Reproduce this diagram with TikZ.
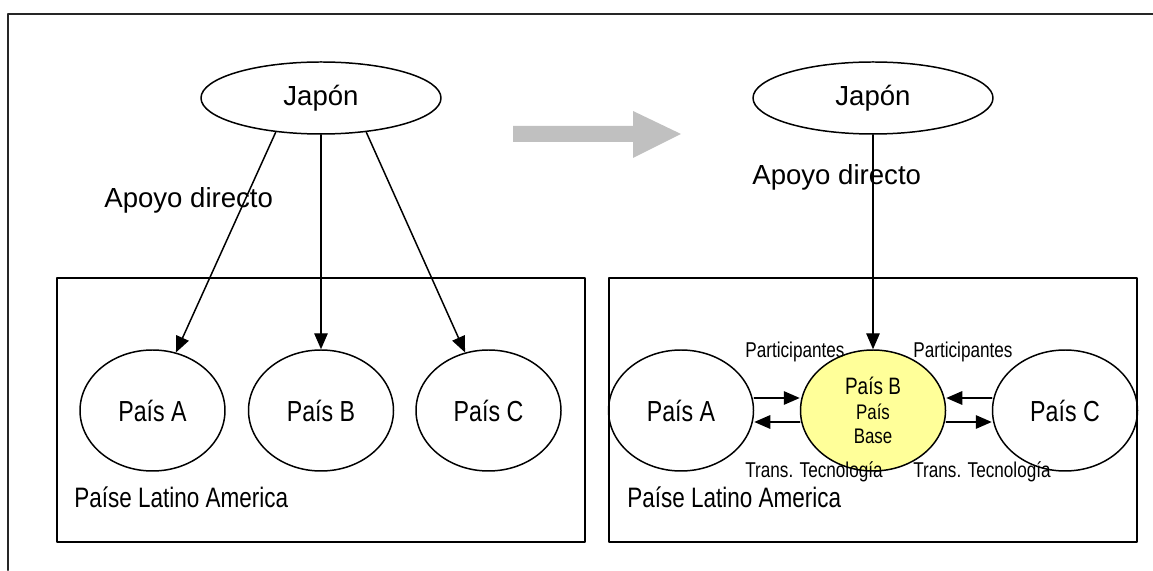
\documentclass[tikz,border=0pt]{standalone}
\usepackage{fontspec}
\setmainfont{Liberation Sans}
\newfontfamily\narrowsans[FakeStretch=0.8]{Liberation Sans}
\usepackage{tikz}
\usetikzlibrary{arrows.meta,shapes.geometric}
\definecolor{amarillo}{RGB}{255,255,153}
\definecolor{gris}{RGB}{192,192,192}
\tikzset{
	japon/.style={draw,ellipse,line width=0.85pt,minimum width=4.8cm,minimum height=1.44cm,inner sep=0pt,font=\fontsize{15.7}{18}\selectfont},
	pais/.style={draw,ellipse,line width=0.85pt,minimum width=2.9cm,minimum height=2.42cm,inner sep=0pt,font=\narrowsans\fontsize{16.5}{18}\selectfont},
	apoyo/.style={anchor=west,inner sep=0pt,font=\fontsize{15.7}{18}\selectfont},
	region/.style={anchor=west,inner sep=0pt,font=\narrowsans\fontsize{16}{18}\selectfont},
	etiqueta/.style={anchor=west,inner sep=0pt,font=\narrowsans\fontsize{12.2}{14}\selectfont}
}

\begin{document}
\begin{tikzpicture}[line cap=round,line join=round,>={Triangle[length=0.32cm,width=0.27cm]},x=1cm,y=1cm]
		\useasboundingbox (0,0) rectangle (23.06,11.4);
		\clip (0,0) rectangle (23.06,11.4);
		%%%%%%%%%%%%%%%%%%%%% M A R C O %%%%%%%%%%%%%%%%%%%%%
		\draw [line width=1.2pt,color=black!85] (23.06,11.12) -- (0.16,11.12) -- (0.16,0);
		
		%%%% ANTES
		\draw [line width=0.85pt] (1.14,0.56) rectangle (11.7,5.84);
		\node[apoyo] (apoyoL) at (2.08,7.4) {Apoyo directo};
		\node[japon] (japonL) at (6.42,9.44) {Japón};
		\node[pais] (paisA) at (3.05,3.19) {País A};
		\node[pais] (paisB) at (6.42,3.19) {País B};
		\node[pais] (paisC) at (9.77,3.19) {País C};
		\node[region] (regionL) at (1.48,1.46) {Paíse Latino America};
		\draw [->,line width=0.85pt] (japonL.217) -- (paisA.68);
		\draw [->,line width=0.85pt] (japonL.south) -- (paisB.north);
		\draw [->,line width=0.85pt] (japonL.323) -- (paisC.112);
		
		%FLECHA
		\fill [gris] (10.26,8.88) -- (12.66,8.88) -- (12.66,9.18) -- (13.62,8.72) -- (12.66,8.24) -- (12.66,8.56) -- (10.26,8.56) -- cycle;
		
		%%%% DESPUES
		\draw [line width=0.85pt] (12.18,0.56) rectangle (22.74,5.84);
		\node[apoyo] (apoyoR) at (15.04,7.86) {Apoyo directo};
		\node[japon] (japonR) at (17.46,9.44) {Japón};
		\node[pais] (baseA) at (13.62,3.19) {País A};
		\node[pais,fill=amarillo,align=center,font=\narrowsans\fontsize{12}{13.9}\selectfont] (baseB) at (17.46,3.19) {{\fontsize{13.5}{13.9}\selectfont País B}\\País\\Base};
		\node[pais] (baseC) at (21.3,3.19) {País C};
		\node[region] (regionR) at (12.54,1.46) {Paíse Latino America};
		\draw [->,line width=0.85pt] (japonR.south) -- (baseB.north);
		
		%%%% INTERCAMBIO
		\draw [->,line width=0.85pt] ([yshift=0.25cm]baseA.east) -- ([yshift=0.25cm]baseB.west);
		\draw [->,line width=0.85pt] ([yshift=-0.23cm]baseB.west) -- ([yshift=-0.23cm]baseA.east);
		\draw [->,line width=0.85pt] ([yshift=0.25cm]baseC.west) -- ([yshift=0.25cm]baseB.east);
		\draw [->,line width=0.85pt] ([yshift=-0.23cm]baseB.east) -- ([yshift=-0.23cm]baseC.west);
		\node[etiqueta] (partL) at (14.9,4.36) {Participantes};
		\node[etiqueta] (partR) at (18.26,4.36) {Participantes};
		\node[etiqueta] (transL) at (14.9,1.96) {Trans. Tecnología};
		\node[etiqueta] (transR) at (18.26,1.96) {Trans. Tecnología};
	\end{tikzpicture}
\end{document}
